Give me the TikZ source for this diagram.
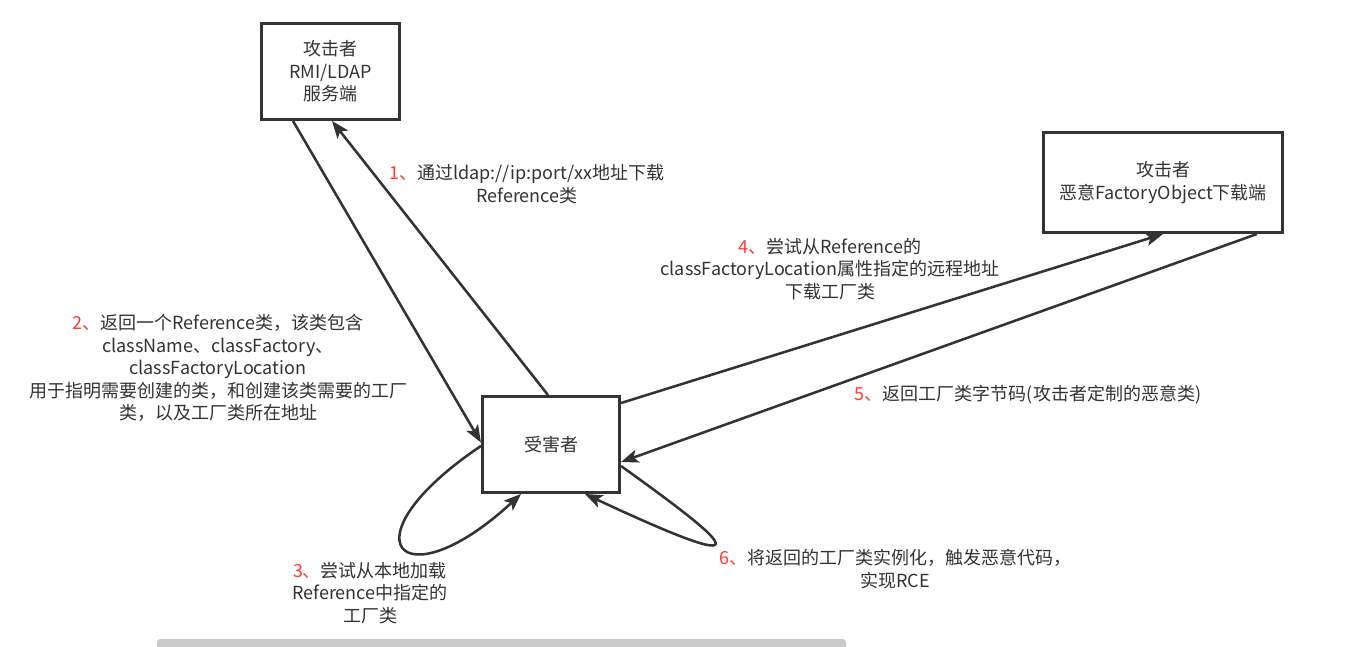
\documentclass[tikz,border=0pt]{standalone}
\usepackage{fontspec}
\setmainfont{Noto Sans CJK SC}
\usetikzlibrary{arrows.meta,calc}
\definecolor{ink}{HTML}{333333}
\definecolor{numred}{HTML}{FF3B30}
\definecolor{barcol}{HTML}{C9C9C9}
\begin{document}
\begin{tikzpicture}[x=0.75pt,y=-0.75pt,
  box/.style={draw=ink,line width=2.2pt,fill=white,align=center,inner sep=0pt,text=ink},
  conn/.style={draw=ink,line width=1.9pt,-{Stealth[length=13pt,width=10pt,inset=3pt]}},
  lbl/.style={align=center,text=ink,inner sep=0pt},
  font=\fontsize{13.5pt}{16.9pt}\selectfont]
\useasboundingbox (0,0) rectangle (1345,646);
\fill[white] (0,0) rectangle (1345,646);
% boxes
\node[box,minimum width=103.6pt,minimum height=72pt] (A) at (330.5,71.5) {攻击者\\RMI/LDAP\\服务端};
\node[box,minimum width=179.4pt,minimum height=75pt] (B) at (1163,182.5) {攻击者\\恶意FactoryObject下载端};
\node[box,minimum width=102.9pt,minimum height=72pt] (C) at (551,444.5) {受害者};
% connectors
\draw[conn] ($(C.north)+(-3,0)$) -- ($(A.south)+(1.5,0)$);
\draw[conn] ($(A.south)+(-37.5,0)$) -- ($(C.west)+(0,-2)$);
\draw[conn] ($(C.east)+(0,-41.5)$) -- (B.south);
\draw[conn] ($(B.south)+(94,0)$) -- ($(C.east)+(0,17.5)$);
\draw[conn] ($(C.west)+(0,1.5)$) .. controls ($(C.west)+(-140,95.5)$) and ($(C.west)+(-80,160.5)$) .. ($(C.south)+(-30,0)$);
\draw[conn] ($(C.east)+(0,21.5)$) .. controls ($(C.east)+(89,85.5)$) and ($(C.east)+(169,145.5)$) .. ($(C.south)+(34,0)$);
% labels
\node[lbl] (l1) at (527,184) {\textcolor{numred}{1、}通过ldap://ip:port/xx地址下载\\Reference类};
\node[lbl] (l2) at (218,368) {\textcolor{numred}{2、}返回一个Reference类，该类包含\\className、classFactory、\\classFactoryLocation\\用于指明需要创建的类，和创建该类需要的工厂\\类，以及工厂类所在地址};
\node[lbl] (l3) at (370,593) {\textcolor{numred}{3、}尝试从本地加载\\Reference中指定的\\工厂类};
\node[lbl] (l4) at (830,269) {\textcolor{numred}{4、}尝试从Reference的\\classFactoryLocation属性指定的远程地址\\下载工厂类};
\node[lbl] (l5) at (1028,395) {\textcolor{numred}{5、}返回工厂类字节码(攻击者定制的恶意类)};
\node[lbl] (l6) at (895,569) {\textcolor{numred}{6、}将返回的工厂类实例化，触发恶意代码，\\实现RCE};
% scrollbar
\fill[barcol,rounded corners=2.5pt] (157,639) rectangle (846,650);
\end{tikzpicture}
\end{document}
